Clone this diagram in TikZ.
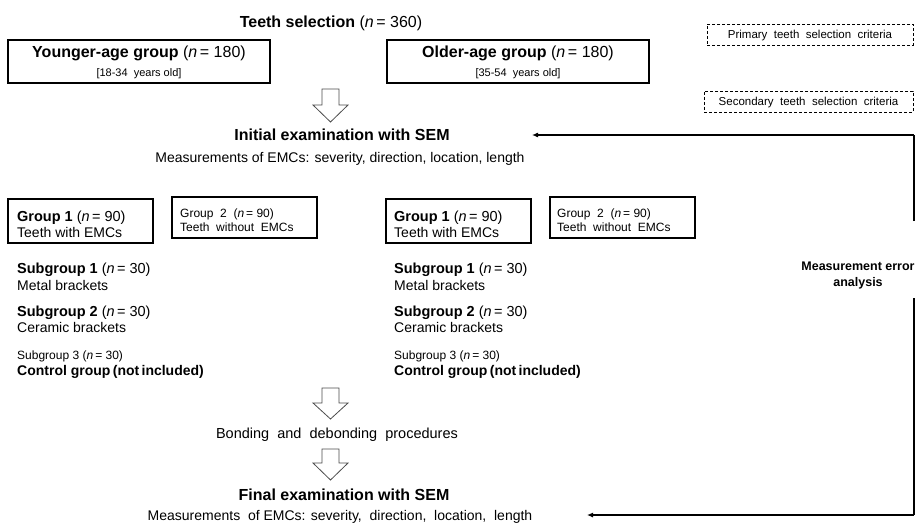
\documentclass[tikz,border=0pt]{standalone}
\usepackage{fontspec}
\setmainfont{Liberation Sans}
\usetikzlibrary{arrows.meta}
\newcommand{\myfs}[1]{\fontsize{#1}{#1}\selectfont}
\newcommand{\blockarr}[4]{%
  \draw[blockarrow] (#1-8.5,#2) -- (#1+8.5,#2) -- (#1+8.5,#3) -- (#1+17.5,#3)
    -- (#1,#4) -- (#1-17.5,#3) -- (#1-8.5,#3) -- cycle;}
\begin{document}
\begin{tikzpicture}[x=1pt,y=-1pt,
  solidbox/.style={draw=black, line width=1.1pt, inner sep=0pt},
  dashbox/.style={draw=black, line width=0.9pt, dash pattern=on 3pt off 2pt, inner sep=0pt},
  ltxt/.style={inner sep=0pt, anchor=base west},
  ctxt/.style={inner sep=0pt, anchor=base},
  blockarrow/.style={draw=gray!60!black, line width=0.8pt, fill=white},
  fb/.style={line width=1.1pt, -{Latex[length=6pt,width=5pt]}},
  fbline/.style={line width=1.1pt}]
\useasboundingbox (0,0) rectangle (917,524);

% title
\node[ctxt] (sel) at (331,28) {\myfs{16}\textbf{Teeth selection} (\textit{n}\,= 360)};

% age groups
\node[solidbox, minimum width=262pt, minimum height=43pt] (young) at (139,61.5) {};
\node[ctxt] (youngt) at (139,58) {\myfs{16}\textbf{Younger-age group} (\textit{n}\,= 180)};
\node[ctxt] (younga) at (139,77) {\myfs{11}[18-34\ \ years old]};
\node[solidbox, minimum width=262pt, minimum height=43pt] (old) at (518,61.5) {};
\node[ctxt] (oldt) at (518,58) {\myfs{16}\textbf{Older-age group} (\textit{n}\,= 180)};
\node[ctxt] (olda) at (518,77) {\myfs{11}[35-54\ \ years old]};

% criteria legend
\node[dashbox, minimum width=206pt, minimum height=21pt] (prim) at (810,34.5) {};
\node[ctxt] (primt) at (810,39) {\myfs{11.5}Primary\ \ teeth\ \ selection\ \ criteria};
\node[dashbox, minimum width=209pt, minimum height=21pt] (sec) at (808.5,101.5) {};
\node[ctxt] (sect) at (808.5,106) {\myfs{11.5}Secondary\ \ teeth\ \ selection\ \ criteria};

% arrows
\blockarr{330.5}{89}{105}{122}
\blockarr{330.5}{388}{403}{419}
\blockarr{330.5}{449}{463}{480}

% initial
\node[ctxt] (init) at (342,140) {\myfs{16}\textbf{Initial examination with SEM}};
\node[ctxt] (initm) at (340,162) {\myfs{14}Measurements of EMCs: severity, direction, location, length};

% left column
\node[solidbox, minimum width=145pt, minimum height=44pt] (lg1) at (80.5,221) {};
\node[ltxt] (lg1a) at (17,221) {\myfs{14.5}\textbf{Group 1} (\textit{n}\,= 90)};
\node[ltxt] (lg1b) at (17,237) {\myfs{14}Teeth with EMCs};
\node[solidbox, minimum width=145pt, minimum height=41pt] (lg2) at (244.5,217.5) {};
\node[ltxt] (lg2a) at (180,217) {\myfs{12}Group\ \ 2\ \ (\textit{n}\,= 90)};
\node[ltxt] (lg2b) at (180,231) {\myfs{12}Teeth\ \ without\ \ EMCs};
\node[ltxt] (ls1a) at (17,273) {\myfs{14.5}\textbf{Subgroup 1} (\textit{n}\,= 30)};
\node[ltxt] (ls1b) at (17,290) {\myfs{14}Metal brackets};
\node[ltxt] (ls2a) at (17,316) {\myfs{14.5}\textbf{Subgroup 2} (\textit{n}\,= 30)};
\node[ltxt] (ls2b) at (17,332) {\myfs{14}Ceramic brackets};
\node[ltxt] (ls3a) at (17,359) {\myfs{12}Subgroup 3 (\textit{n}\,= 30)};
\node[ltxt] (ls3b) at (17,375) {\myfs{14}\textbf{Control group\,(not\,included)}};

% right column
\node[solidbox, minimum width=145pt, minimum height=44pt] (rg1) at (458.5,221) {};
\node[ltxt] (rg1a) at (394,221) {\myfs{14.5}\textbf{Group 1} (\textit{n}\,= 90)};
\node[ltxt] (rg1b) at (394,237) {\myfs{14}Teeth with EMCs};
\node[solidbox, minimum width=145pt, minimum height=41pt] (rg2) at (622.5,217.5) {};
\node[ltxt] (rg2a) at (557,217) {\myfs{12}Group\ \ 2\ \ (\textit{n}\,= 90)};
\node[ltxt] (rg2b) at (557,231) {\myfs{12}Teeth\ \ without\ \ EMCs};
\node[ltxt] (rs1a) at (394,273) {\myfs{14.5}\textbf{Subgroup 1} (\textit{n}\,= 30)};
\node[ltxt] (rs1b) at (394,290) {\myfs{14}Metal brackets};
\node[ltxt] (rs2a) at (394,316) {\myfs{14.5}\textbf{Subgroup 2} (\textit{n}\,= 30)};
\node[ltxt] (rs2b) at (394,332) {\myfs{14}Ceramic brackets};
\node[ltxt] (rs3a) at (394,359) {\myfs{12}Subgroup 3 (\textit{n}\,= 30)};
\node[ltxt] (rs3b) at (394,375) {\myfs{14}\textbf{Control group\,(not\,included)}};

% bonding and final
\node[ctxt] (bond) at (337,438) {\myfs{14.5}Bonding\ \ and\ \ debonding\ \ procedures};
\node[ctxt] (fin) at (344,500) {\myfs{16}\textbf{Final examination with SEM}};
\node[ctxt] (finm) at (340,520) {\myfs{14}Measurements\ \ of EMCs: severity,\ \ direction,\ \ location,\ \ length};

% measurement error feedback
\node[ctxt] (me1) at (858,270) {\myfs{12.5}\textbf{Measurement error}};
\node[ctxt] (me2) at (858,286) {\myfs{12.5}\textbf{analysis}};
\coordinate (ctop) at (914,135);
\coordinate (cmidA) at (914,221);
\coordinate (cmidB) at (914,298);
\coordinate (cbot) at (914,515);
\coordinate (tipA) at (532,135);
\coordinate (tipB) at (587,515);
\draw[fbline] (cmidA) -- (ctop);
\draw[fb] (ctop) -- (tipA);
\draw[fbline] (cmidB) -- (cbot);
\draw[fb] (cbot) -- (tipB);
\end{tikzpicture}
\end{document}
